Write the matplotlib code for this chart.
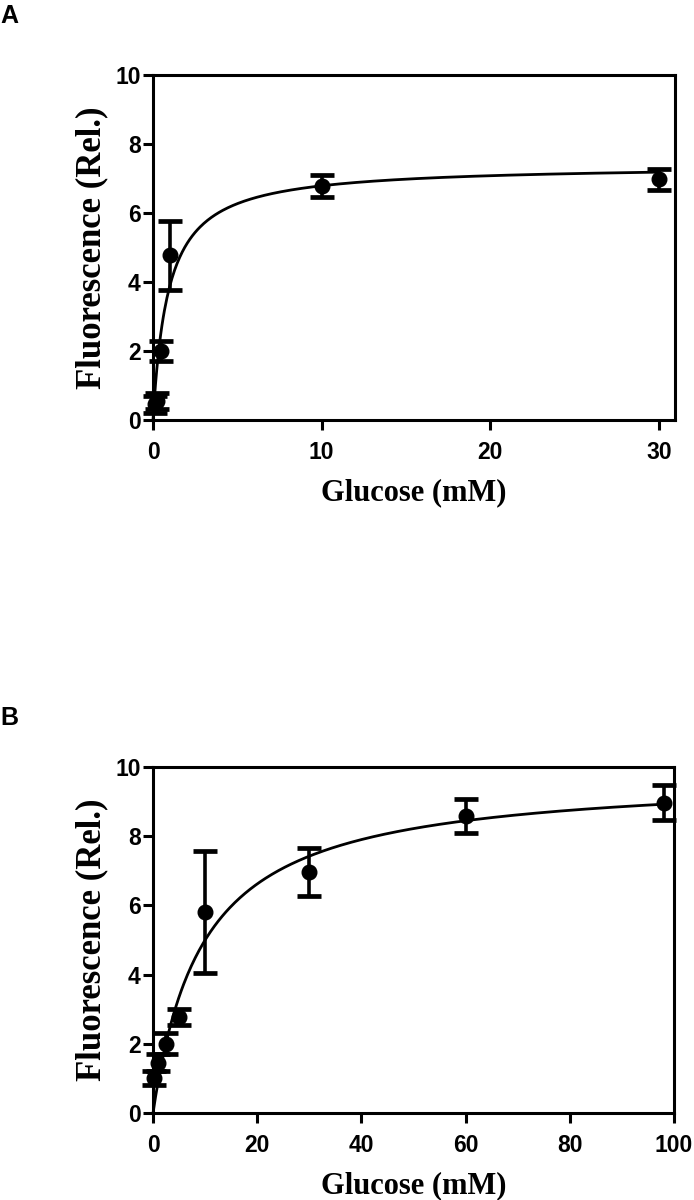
import numpy as np
import matplotlib
matplotlib.use("Agg")
import matplotlib.pyplot as plt

# Panel A data
a_glucose = [0.1, 0.25, 0.5, 1.0, 10.0, 30.0]
a_fluor = [0.45, 0.55, 2.0, 4.77, 6.78, 6.98]
a_err = [0.25, 0.22, 0.3, 1.0, 0.32, 0.3]
a_vmax, a_km = 7.4, 0.9
a_xticks = [0, 10, 20, 30]

# Panel B data
b_glucose = [0.25, 1.0, 2.5, 5.0, 10.0, 30.0, 60.0, 98.0]
b_fluor = [1.0, 1.45, 2.0, 2.77, 5.8, 6.97, 8.58, 8.97]
b_err = [0.2, 0.25, 0.3, 0.23, 1.76, 0.7, 0.5, 0.51]
b_vmax, b_km = 9.8, 9.6
b_xticks = [0, 20, 40, 60, 80, 100]

yticks = [0, 2, 4, 6, 8, 10]

fig = plt.figure(figsize=(6.94, 12), dpi=100)

tick_font = dict(family="Liberation Sans", weight="bold", size=16.5)
xlabel_font = dict(family="Liberation Serif", weight="bold", size=22)
ylabel_font = dict(family="Liberation Serif", weight="bold", size=25)


def panel(rect, x, y, e, vmax, km, xmax, xticks, letter, letter_y):
    ax = fig.add_axes(rect)
    xs = np.linspace(0, max(x), 400)
    ax.plot(xs, vmax * xs / (km + xs), color="black", lw=2.0, clip_on=False, zorder=3)
    ax.errorbar(x, y, yerr=e, fmt="o", color="black", ms=10.5, elinewidth=2.6,
                capsize=8.5, capthick=3.4, clip_on=False, zorder=4)
    ax.set_xlim(0, xmax)
    ax.set_ylim(0, 10)
    ax.set_xticks(xticks)
    ax.set_yticks(yticks)
    for s in ax.spines.values():
        s.set_linewidth(2.2)
    ax.tick_params(width=2.2, length=7, direction="out")
    ax.tick_params(axis="x", pad=8)
    ax.tick_params(axis="y", pad=2)
    ax.set_xticklabels([str(t) for t in xticks], fontdict=tick_font)
    ax.set_yticklabels([str(t) for t in yticks], fontdict=tick_font)
    ax.set_xlabel("Glucose (mM)", fontdict=xlabel_font, labelpad=10)
    ax.set_ylabel("Fluorescence (Rel.)", fontdict=ylabel_font, labelpad=5)
    fig.text(0.0, letter_y, letter, family="Liberation Sans", weight="bold",
             size=18, ha="left", va="top")
    return ax


panel([0.2205, 0.65, 0.752, 0.2875], a_glucose, a_fluor, a_err, a_vmax, a_km,
      30.94, a_xticks, "A", 1 - 4 / 1200)
panel([0.2205, 0.0725, 0.7507, 0.2883], b_glucose, b_fluor, b_err, b_vmax, b_km,
      100, b_xticks, "B", 1 - 706 / 1200)

fig.savefig("out.png", dpi=100)
